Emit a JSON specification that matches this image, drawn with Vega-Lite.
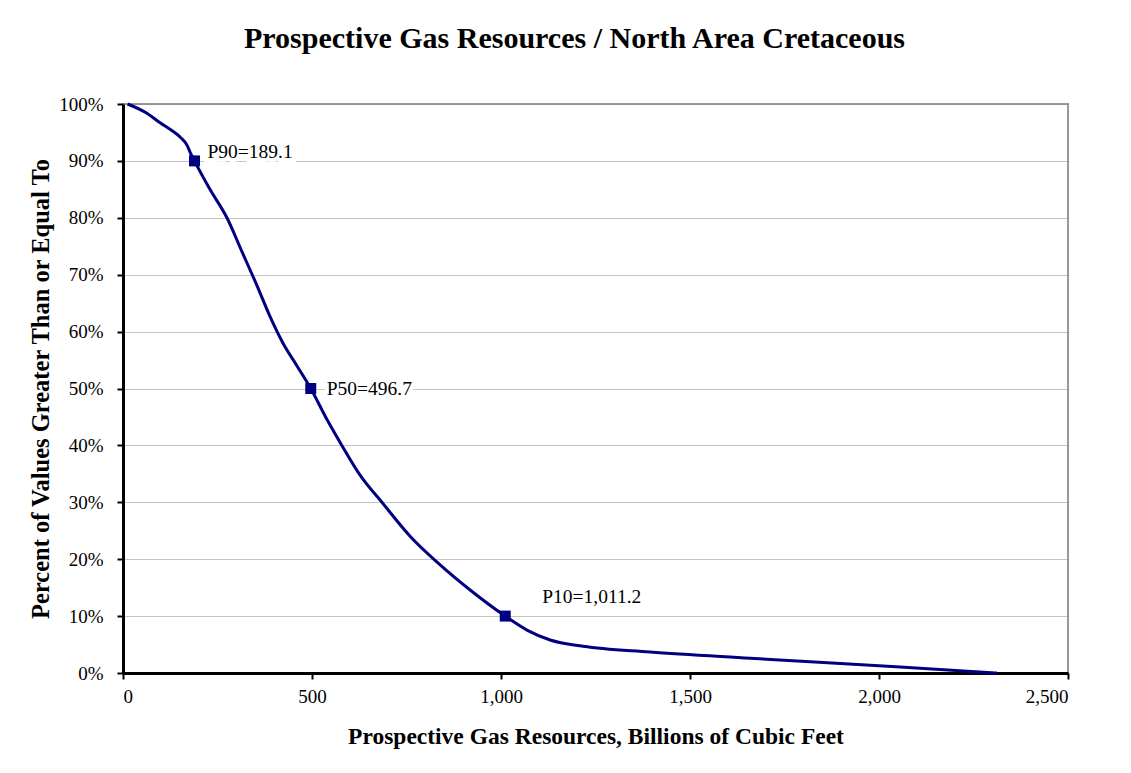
{
  "$schema": "https://vega.github.io/schema/vega-lite/v6.json",
  "width": 945,
  "height": 569,
  "autosize": {"type": "none"},
  "padding": {"left": 123, "top": 104, "right": 63, "bottom": 100},
  "background": "white",
  "title": {
    "text": "Prospective Gas Resources / North Area Cretaceous",
    "font": "Liberation Serif",
    "fontSize": 30,
    "fontWeight": "bold",
    "color": "black",
    "anchor": "middle",
    "dx": -21,
    "offset": 41
  },
  "datasets": {
    "curve": [
      {"gas": 12, "pct": 1.0},
      {"gas": 60, "pct": 0.985},
      {"gas": 98, "pct": 0.967},
      {"gas": 130, "pct": 0.953},
      {"gas": 151, "pct": 0.942},
      {"gas": 170, "pct": 0.927},
      {"gas": 177, "pct": 0.916},
      {"gas": 189.1, "pct": 0.9},
      {"gas": 230, "pct": 0.85},
      {"gas": 275, "pct": 0.8},
      {"gas": 315, "pct": 0.74},
      {"gas": 355, "pct": 0.68},
      {"gas": 390, "pct": 0.625},
      {"gas": 423, "pct": 0.58},
      {"gas": 460, "pct": 0.54},
      {"gas": 496.7, "pct": 0.5},
      {"gas": 540, "pct": 0.445},
      {"gas": 579, "pct": 0.4},
      {"gas": 630, "pct": 0.345},
      {"gas": 685, "pct": 0.3},
      {"gas": 760, "pct": 0.24},
      {"gas": 839, "pct": 0.19},
      {"gas": 920, "pct": 0.145},
      {"gas": 1011.2, "pct": 0.1},
      {"gas": 1070, "pct": 0.075},
      {"gas": 1130, "pct": 0.058},
      {"gas": 1217, "pct": 0.047},
      {"gas": 1394, "pct": 0.037},
      {"gas": 1659, "pct": 0.026},
      {"gas": 2056, "pct": 0.0105},
      {"gas": 2312, "pct": 0.0}
    ],
    "pts": [
      {"gas": 189.1, "pct": 0.9, "label": "P90=189.1"},
      {"gas": 496.7, "pct": 0.5, "label": "P50=496.7"},
      {"gas": 1011.2, "pct": 0.1, "label": "P10=1,011.2"}
    ]
  },
  "config": {
    "view": {"stroke": "#999999", "strokeWidth": 2},
    "font": "Liberation Serif",
    "axis": {
      "labelFont": "Liberation Serif",
      "labelFontSize": 19,
      "labelColor": "black",
      "titleFont": "Liberation Serif",
      "titleFontWeight": "bold",
      "titleColor": "black",
      "domainColor": "black",
      "domainWidth": 3,
      "tickColor": "black",
      "tickWidth": 2,
      "tickSize": 6
    }
  },
  "layer": [
    {
      "data": {"name": "curve"},
      "mark": {"type": "line", "color": "#000080", "strokeWidth": 3, "interpolate": "monotone"},
      "encoding": {
        "x": {
          "field": "gas", "type": "quantitative",
          "scale": {"domain": [0, 2500], "nice": false},
          "axis": {
            "values": [0, 500, 1000, 1500, 2000, 2500],
            "format": ",.0f",
            "grid": false,
            "labelPadding": 8,
            "title": "Prospective Gas Resources, Billions of Cubic Feet",
            "titleFontSize": 23.5,
            "titlePadding": 18
          }
        },
        "y": {
          "field": "pct", "type": "quantitative",
          "scale": {"domain": [0, 1], "nice": false},
          "axis": {
            "values": [0, 0.1, 0.2, 0.3, 0.4, 0.5, 0.6, 0.7, 0.8, 0.9, 1.0],
            "format": ".0%",
            "grid": true,
            "gridColor": "#888888",
            "gridDash": [1, 1],
            "gridWidth": 1,
            "labelPadding": 14,
            "title": "Percent of Values Greater Than or Equal To",
            "titleFontSize": 24.5,
            "titlePadding": 5
          }
        }
      }
    },
    {
      "data": {"name": "pts"},
      "mark": {"type": "square", "color": "#000080", "size": 121, "opacity": 1, "filled": true},
      "encoding": {
        "x": {"field": "gas", "type": "quantitative"},
        "y": {"field": "pct", "type": "quantitative"}
      }
    },
    {
      "data": {"name": "pts"},
      "transform": [{"filter": "datum.label == 'P90=189.1'"}],
      "layer": [
        {"mark": {"type": "text", "align": "left", "baseline": "middle", "dx": 13, "dy": -9, "fontSize": 19.5, "font": "Liberation Serif", "stroke": "white", "strokeWidth": 8, "fill": "white"},
         "encoding": {"x": {"field": "gas", "type": "quantitative"}, "y": {"field": "pct", "type": "quantitative"}, "text": {"field": "label"}}},
        {"mark": {"type": "text", "align": "left", "baseline": "middle", "dx": 13, "dy": -9, "fontSize": 19.5, "font": "Liberation Serif", "color": "black"},
         "encoding": {"x": {"field": "gas", "type": "quantitative"}, "y": {"field": "pct", "type": "quantitative"}, "text": {"field": "label"}}}
      ]
    },
    {
      "data": {"name": "pts"},
      "transform": [{"filter": "datum.label == 'P50=496.7'"}],
      "layer": [
        {"mark": {"type": "text", "align": "left", "baseline": "middle", "dx": 16, "dy": 0, "fontSize": 19.5, "font": "Liberation Serif", "stroke": "white", "strokeWidth": 8, "fill": "white"},
         "encoding": {"x": {"field": "gas", "type": "quantitative"}, "y": {"field": "pct", "type": "quantitative"}, "text": {"field": "label"}}},
        {"mark": {"type": "text", "align": "left", "baseline": "middle", "dx": 16, "dy": 0, "fontSize": 19.5, "font": "Liberation Serif", "color": "black"},
         "encoding": {"x": {"field": "gas", "type": "quantitative"}, "y": {"field": "pct", "type": "quantitative"}, "text": {"field": "label"}}}
      ]
    },
    {
      "data": {"name": "pts"},
      "transform": [{"filter": "datum.label == 'P10=1,011.2'"}],
      "layer": [
        {"mark": {"type": "text", "align": "left", "baseline": "middle", "dx": 37, "dy": -19, "fontSize": 19.5, "font": "Liberation Serif", "stroke": "white", "strokeWidth": 8, "fill": "white"},
         "encoding": {"x": {"field": "gas", "type": "quantitative"}, "y": {"field": "pct", "type": "quantitative"}, "text": {"field": "label"}}},
        {"mark": {"type": "text", "align": "left", "baseline": "middle", "dx": 37, "dy": -19, "fontSize": 19.5, "font": "Liberation Serif", "color": "black"},
         "encoding": {"x": {"field": "gas", "type": "quantitative"}, "y": {"field": "pct", "type": "quantitative"}, "text": {"field": "label"}}}
      ]
    }
  ]
}
